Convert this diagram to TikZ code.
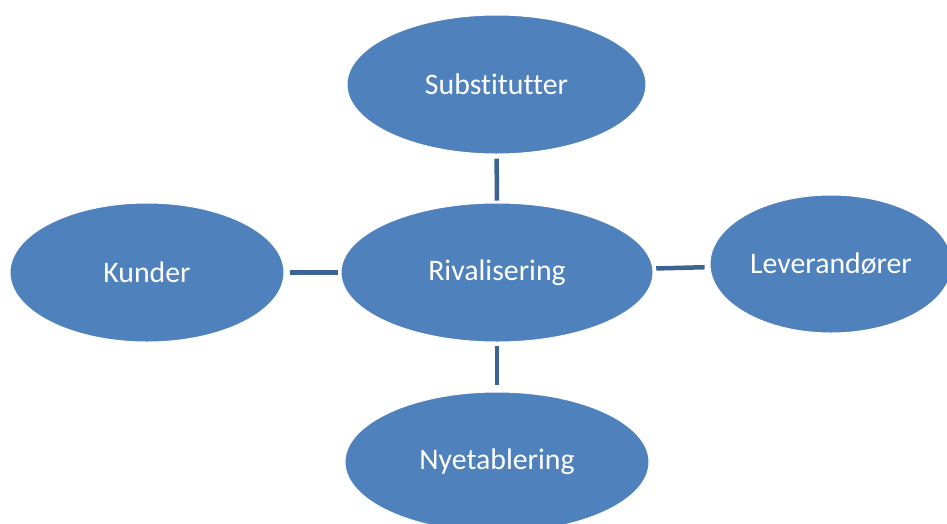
\documentclass[tikz,border=0pt]{standalone}
\usepackage{fontspec}
\setmainfont{Carlito}[Ligatures={NoCommon,NoContextual}]
\usetikzlibrary{shapes.geometric}
\definecolor{ellfill}{HTML}{4F81BD}
\definecolor{conn}{HTML}{3B6393}
\tikzset{
  oval/.style={ellipse, fill=ellfill, draw=white, line width=1pt, inner sep=0pt,
    text=white, font=\fontsize{29.8}{36}\selectfont},
  link/.style={draw=conn, line width=4.5pt}
}
\begin{document}
\begin{tikzpicture}[x=1pt,y=-1pt]
\useasboundingbox (0,0) rectangle (947,523);
\clip (0,0) rectangle (947,523);
\fill[white] (0,0) rectangle (947,523);
\node[oval, minimum width=299pt, minimum height=139pt] (sub) at (496.5,84.5) {Substitutter};
\node[oval, minimum width=312pt, minimum height=139pt] (riv) at (497,272.5) {Rivalisering};
\node[oval, minimum width=274pt, minimum height=139pt] (kun) at (147,272.5) {Kunder};
\node[oval, minimum width=242pt, minimum height=138pt] (lev) at (831,264) {Leverandører};
\node[oval, minimum width=304pt, minimum height=140pt] (nye) at (497,462) {Nyetablering};
\draw[link, shorten <=4pt, shorten >=2pt] (sub) -- (riv);
\draw[link, shorten <=3pt, shorten >=7pt] (riv) -- (nye);
\draw[link, shorten <=5pt, shorten >=3pt] (kun) -- (riv);
\draw[link, shorten <=3pt, shorten >=5pt] (riv) -- (lev);
\end{tikzpicture}
\end{document}
